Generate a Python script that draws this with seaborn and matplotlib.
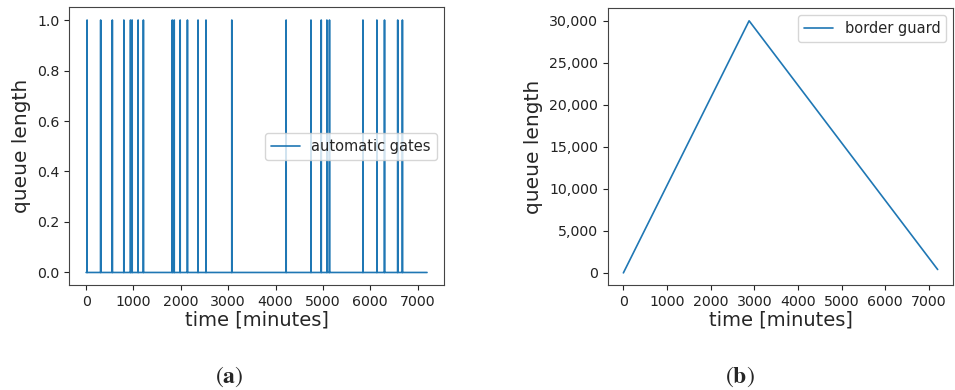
import numpy as np
import pandas as pd
import matplotlib
matplotlib.use("Agg")
import matplotlib.pyplot as plt
from matplotlib.ticker import StrMethodFormatter
import seaborn as sns

# minutes at which the automatic gates had a queue of 1
gate_spikes = [21, 308, 554, 797, 938, 973, 1099, 1210, 1819, 1861, 1987,
               2140, 2364, 2532, 3077, 4225, 4749, 4966, 5085, 5140, 5847,
               6141, 6302, 6581, 6680]
sim_end = 7200

# border guard queue: corner points of the line
guard_time = [0, 2880, 7200]
guard_queue = [0, 30000, 400]

BLUE = "#1f77b4"


def main():
    sns.set_style("ticks")
    plt.rcParams["font.family"] = ["DejaVu Sans"]
    plt.rcParams["mathtext.fontset"] = "stix"

    minutes = np.arange(sim_end + 1)
    queue = np.zeros(len(minutes))
    queue[gate_spikes] = 1
    df_gates = pd.DataFrame({"time": minutes, "queue": queue})
    df_guard = pd.DataFrame({"time": guard_time, "queue": guard_queue})

    fig = plt.figure(figsize=(9.55, 3.9), dpi=100)
    ax1 = fig.add_axes([0.0723, 0.269, 0.3927, 0.712])
    ax2 = fig.add_axes([0.6363, 0.268, 0.3620, 0.711])

    sns.lineplot(data=df_gates, x="time", y="queue", ax=ax1, color=BLUE,
                 lw=1.2, label="automatic gates")
    sns.lineplot(data=df_guard, x="time", y="queue", ax=ax2, color=BLUE,
                 lw=1.2, label="border guard")

    for ax in (ax1, ax2):
        for sp in ax.spines.values():
            sp.set_visible(True)
            sp.set_color("#444444")
        ax.set_xlabel("time [minutes]", fontsize=14, labelpad=1)
        ax.set_ylabel("queue length", fontsize=14.5)
        ax.set_xticks(range(0, 8000, 1000))
        ax.tick_params(labelsize=10.2, colors="#222222")

    ax1.set_yticks([0.0, 0.2, 0.4, 0.6, 0.8, 1.0])
    ax1.legend(loc="center right", fontsize=10.5)
    ax2.yaxis.set_major_formatter(StrMethodFormatter("{x:,.0f}"))
    ax2.set_yticks(range(0, 35000, 5000))
    ax2.legend(loc="upper right", fontsize=10.5)

    fig.text(0.240, 0.018, r"$(\mathbf{a})$", ha="center", fontsize=17)
    fig.text(0.775, 0.018, r"$(\mathbf{b})$", ha="center", fontsize=17)

    fig.savefig("out.png", dpi=100)


if __name__ == "__main__":
    main()
